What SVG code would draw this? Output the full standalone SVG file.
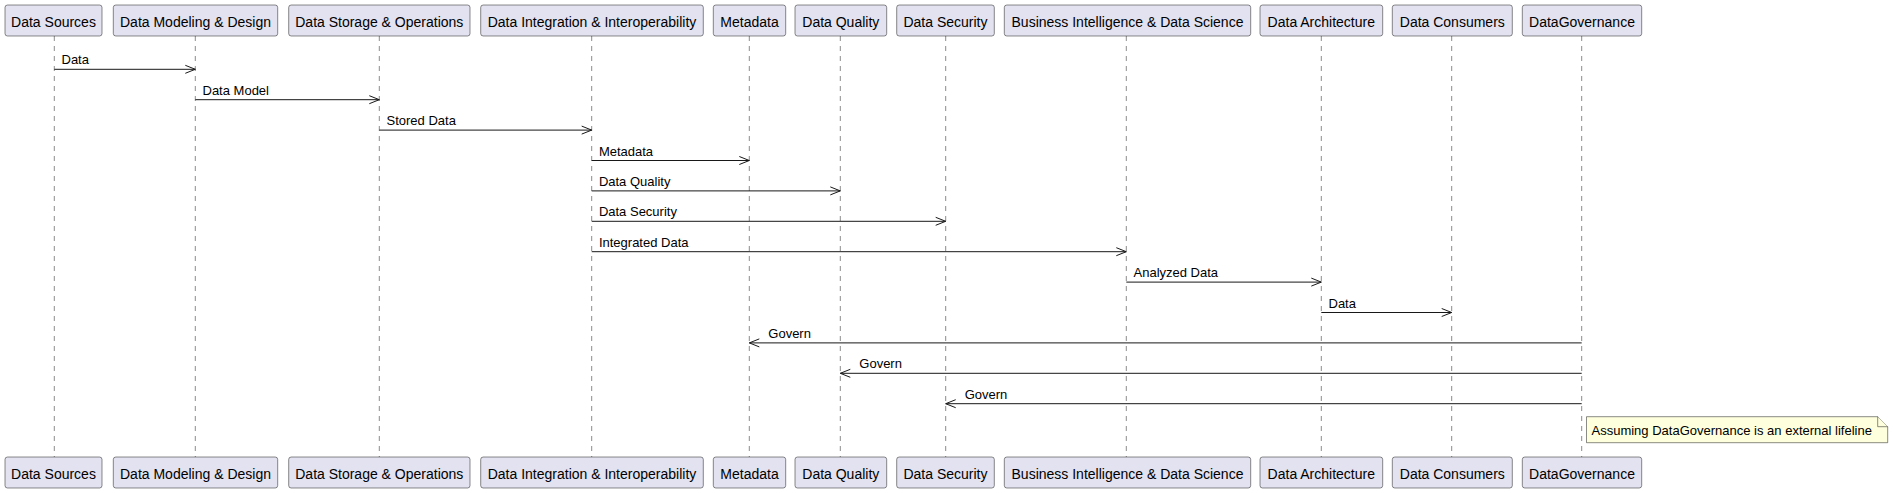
<svg xmlns="http://www.w3.org/2000/svg" width="1893" height="493" viewBox="0 0 1893 493">
<defs>
<style>
.box{fill:#E2E2F0;stroke:#181818;stroke-width:0.5}
.pt{font-family:"Liberation Sans",Arial,sans-serif;font-size:14px;fill:#000;text-anchor:middle}
.life{stroke:#181818;stroke-width:0.5;stroke-dasharray:5,5;fill:none}
.msg{stroke:#181818;stroke-width:1;fill:none}
.ml{font-family:"Liberation Sans",Arial,sans-serif;font-size:13px;fill:#000}
.note{fill:#FEFFDD;stroke:#181818;stroke-width:0.5}
</style>
<marker id="ah" viewBox="0 0 12 10" refX="11" refY="5" markerWidth="12" markerHeight="10" markerUnits="userSpaceOnUse" orient="auto">
<path d="M1,1 L11,5 L1,9" fill="none" stroke="#181818" stroke-width="1"/>
</marker>
</defs>
<rect width="1893" height="493" fill="#FFFFFF"/>
<g id="lifelines">
<line class="life" x1="54.3" y1="36" x2="54.3" y2="457"/>
<line class="life" x1="195.3" y1="36" x2="195.3" y2="457"/>
<line class="life" x1="379.3" y1="36" x2="379.3" y2="457"/>
<line class="life" x1="591.7" y1="36" x2="591.7" y2="457"/>
<line class="life" x1="749.3" y1="36" x2="749.3" y2="457"/>
<line class="life" x1="840.3" y1="36" x2="840.3" y2="457"/>
<line class="life" x1="945.7" y1="36" x2="945.7" y2="457"/>
<line class="life" x1="1126.3" y1="36" x2="1126.3" y2="457"/>
<line class="life" x1="1321.3" y1="36" x2="1321.3" y2="457"/>
<line class="life" x1="1451.7" y1="36" x2="1451.7" y2="457"/>
<line class="life" x1="1581.7" y1="36" x2="1581.7" y2="457"/>
</g>
<g id="p-sources">
<rect class="box" x="5" y="5" width="97" height="31" rx="2.5"/><text class="pt" x="53.5" y="26.5">Data Sources</text>
<rect class="box" x="5" y="457" width="97" height="31" rx="2.5"/><text class="pt" x="53.5" y="478.5">Data Sources</text>
</g>
<g id="p-modeling">
<rect class="box" x="113.3" y="5" width="164.4" height="31" rx="2.5"/><text class="pt" x="195.5" y="26.5">Data Modeling &amp; Design</text>
<rect class="box" x="113.3" y="457" width="164.4" height="31" rx="2.5"/><text class="pt" x="195.5" y="478.5">Data Modeling &amp; Design</text>
</g>
<g id="p-storage">
<rect class="box" x="288.7" y="5" width="181.3" height="31" rx="2.5"/><text class="pt" x="379.3" y="26.5">Data Storage &amp; Operations</text>
<rect class="box" x="288.7" y="457" width="181.3" height="31" rx="2.5"/><text class="pt" x="379.3" y="478.5">Data Storage &amp; Operations</text>
</g>
<g id="p-integration">
<rect class="box" x="480.7" y="5" width="222.6" height="31" rx="2.5"/><text class="pt" x="592" y="26.5">Data Integration &amp; Interoperability</text>
<rect class="box" x="480.7" y="457" width="222.6" height="31" rx="2.5"/><text class="pt" x="592" y="478.5">Data Integration &amp; Interoperability</text>
</g>
<g id="p-metadata">
<rect class="box" x="713.3" y="5" width="72.4" height="31" rx="2.5"/><text class="pt" x="749.5" y="26.5">Metadata</text>
<rect class="box" x="713.3" y="457" width="72.4" height="31" rx="2.5"/><text class="pt" x="749.5" y="478.5">Metadata</text>
</g>
<g id="p-quality">
<rect class="box" x="795" y="5" width="91.7" height="31" rx="2.5"/><text class="pt" x="840.8" y="26.5">Data Quality</text>
<rect class="box" x="795" y="457" width="91.7" height="31" rx="2.5"/><text class="pt" x="840.8" y="478.5">Data Quality</text>
</g>
<g id="p-security">
<rect class="box" x="896.7" y="5" width="97.6" height="31" rx="2.5"/><text class="pt" x="945.5" y="26.5">Data Security</text>
<rect class="box" x="896.7" y="457" width="97.6" height="31" rx="2.5"/><text class="pt" x="945.5" y="478.5">Data Security</text>
</g>
<g id="p-bi">
<rect class="box" x="1004.3" y="5" width="246.4" height="31" rx="2.5"/><text class="pt" x="1127.5" y="26.5">Business Intelligence &amp; Data Science</text>
<rect class="box" x="1004.3" y="457" width="246.4" height="31" rx="2.5"/><text class="pt" x="1127.5" y="478.5">Business Intelligence &amp; Data Science</text>
</g>
<g id="p-architecture">
<rect class="box" x="1260" y="5" width="122.7" height="31" rx="2.5"/><text class="pt" x="1321.3" y="26.5">Data Architecture</text>
<rect class="box" x="1260" y="457" width="122.7" height="31" rx="2.5"/><text class="pt" x="1321.3" y="478.5">Data Architecture</text>
</g>
<g id="p-consumers">
<rect class="box" x="1392.3" y="5" width="120" height="31" rx="2.5"/><text class="pt" x="1452.3" y="26.5">Data Consumers</text>
<rect class="box" x="1392.3" y="457" width="120" height="31" rx="2.5"/><text class="pt" x="1452.3" y="478.5">Data Consumers</text>
</g>
<g id="p-governance">
<rect class="box" x="1522.3" y="5" width="119.4" height="31" rx="2.5"/><text class="pt" x="1582" y="26.5">DataGovernance</text>
<rect class="box" x="1522.3" y="457" width="119.4" height="31" rx="2.5"/><text class="pt" x="1582" y="478.5">DataGovernance</text>
</g>
<g id="connectors">
<line class="msg" x1="54.3" y1="69.3" x2="195.3" y2="69.3" marker-end="url(#ah)"/>
<text class="ml" x="61.5" y="64.3">Data</text>
<line class="msg" x1="195.3" y1="99.7" x2="379.3" y2="99.7" marker-end="url(#ah)"/>
<text class="ml" x="202.5" y="94.7">Data Model</text>
<line class="msg" x1="379.3" y1="130.1" x2="591.7" y2="130.1" marker-end="url(#ah)"/>
<text class="ml" x="386.5" y="125.1">Stored Data</text>
<line class="msg" x1="591.7" y1="160.5" x2="749.3" y2="160.5" marker-end="url(#ah)"/>
<text class="ml" x="598.9" y="155.5">Metadata</text>
<line class="msg" x1="591.7" y1="190.9" x2="840.3" y2="190.9" marker-end="url(#ah)"/>
<text class="ml" x="598.9" y="185.9">Data Quality</text>
<line class="msg" x1="591.7" y1="221.3" x2="945.7" y2="221.3" marker-end="url(#ah)"/>
<text class="ml" x="598.9" y="216.3">Data Security</text>
<line class="msg" x1="591.7" y1="251.7" x2="1126.3" y2="251.7" marker-end="url(#ah)"/>
<text class="ml" x="598.9" y="246.7">Integrated Data</text>
<line class="msg" x1="1126.3" y1="282.1" x2="1321.3" y2="282.1" marker-end="url(#ah)"/>
<text class="ml" x="1133.5" y="277.1">Analyzed Data</text>
<line class="msg" x1="1321.3" y1="312.5" x2="1451.7" y2="312.5" marker-end="url(#ah)"/>
<text class="ml" x="1328.5" y="307.5">Data</text>
<line class="msg" x1="1581.7" y1="342.9" x2="749.3" y2="342.9" marker-end="url(#ah)"/>
<text class="ml" x="768.3" y="337.9">Govern</text>
<line class="msg" x1="1581.7" y1="373.3" x2="840.3" y2="373.3" marker-end="url(#ah)"/>
<text class="ml" x="859.3" y="368.3">Govern</text>
<line class="msg" x1="1581.7" y1="403.7" x2="945.7" y2="403.7" marker-end="url(#ah)"/>
<text class="ml" x="964.7" y="398.7">Govern</text>
</g>
<g id="note">
<path class="note" d="M1586.5,416.7 L1877.7,416.7 L1887.7,426.7 L1887.7,442.7 L1586.5,442.7 Z"/>
<path class="note" d="M1877.7,416.7 L1877.7,426.7 L1887.7,426.7" fill="none"/>
<text class="ml" x="1591.5" y="434.5">Assuming DataGovernance is an external lifeline</text>
</g>
</svg>
